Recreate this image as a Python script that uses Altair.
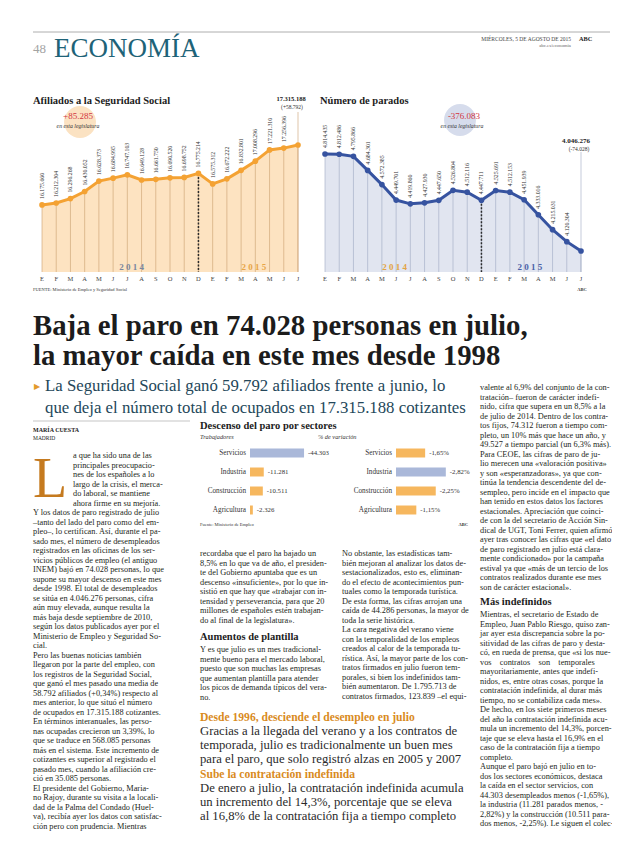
import altair as alt
import pandas as pd

# ---------------- data ----------------
MONTHS = ["E", "F", "M", "A", "M", "J", "J", "A", "S", "O", "N", "D",
          "E", "F", "M", "A", "M", "J", "J"]
AFILIADOS = [16175660, 16212304, 16296268, 16430052, 16628373, 16684995,
             16747103, 16649128, 16661750, 16690520, 16698752, 16775214,
             16575312, 16672222, 16832801, 17008296, 17221310, 17256396,
             17315188]
PARADOS = [4814435, 4812486, 4795866, 4684301, 4572385, 4449701, 4419860,
           4427930, 4447650, 4526804, 4512116, 4447711, 4525691, 4512153,
           4451939, 4333016, 4215031, 4120304, 4046276]
SECTORES = ["Servicios", "Industria", "Construcción", "Agricultura"]
TRABAJADORES = [-44303, -11281, -10511, -2326]
VARIACION = [-1.65, -2.82, -2.25, -1.15]

W, H = 604, 830
SERIF = "Liberation Serif"
ORANGE = "#f4a233"
BLUE = "#3653a0"
TXT = "#231f20"
IND = "\u00a0\u00a0\u00a0\u00a0"


def px(x):
    return x - 8


def py(y):
    return y - 8


def es_int(v):
    return f"{v:,}".replace(",", ".")


def es_pct(v):
    return f"{v:.2f}".replace(".", ",") + "%"


ONE = pd.DataFrame({"k": [0]})


def text(s, x, y, size=8.3, color=TXT, weight="normal", style="normal",
         align="left", baseline="alphabetic", font=SERIF, lh=None):
    if isinstance(s, (list, tuple)):
        s = "\n".join(s)
    kw = dict(fontSize=size, color=color, fontWeight=weight, fontStyle=style,
              align=align, baseline=baseline, font=font)
    if "\n" in s:
        kw["lineBreak"] = "\n"
        kw["lineHeight"] = lh or size * 1.15
    return alt.Chart(ONE).mark_text(**kw).encode(
        x=alt.value(px(x)), y=alt.value(py(y)), text=alt.value(s))


def hrule(x0, x1, y, color="#8a8a8a", w=0.7):
    return alt.Chart(ONE).mark_rule(color=color, strokeWidth=w).encode(
        x=alt.value(px(x0)), x2=alt.value(px(x1)), y=alt.value(py(y)))


def bubble(x, y, r, color):
    return alt.Chart(ONE).mark_circle(color=color, opacity=1, size=3.1416 * r * r).encode(
        x=alt.value(px(x)), y=alt.value(py(y)))


def trend(values, x0, x1, floor, y_floor, y_top, line_c, fill_c, grid_c,
          years, leader_top):
    n = len(values)
    top = max(values)
    df = pd.DataFrame({"i": list(range(n)), "m": MONTHS, "v": values,
                       "lab": [es_int(v) for v in values]})
    xs = alt.Scale(domain=[0, n - 1], range=[px(x0), px(x1)], nice=False, zero=False)
    ys = alt.Scale(domain=[floor, top], range=[py(y_floor), py(y_top)], nice=False, zero=False)
    X = alt.X("i:Q", scale=xs)
    Y = alt.Y("v:Q", scale=ys)
    base = alt.Chart(df)
    lead_v = floor + (y_floor - leader_top) / (y_floor - y_top) * (top - floor)
    layers = [
        base.mark_area(color=fill_c, opacity=1).encode(X, Y, y2=alt.datum(floor)),
        base.mark_rule(color=grid_c, strokeWidth=0.6).encode(X, Y, y2=alt.datum(floor)),
        base.transform_filter(f"datum.i == {n - 1}").mark_rule(
            color=grid_c, strokeWidth=0.6).encode(
            X, y=alt.YDatum(lead_v, type="quantitative", scale=ys), y2=alt.datum(floor)),
        base.transform_filter("datum.i == 11").mark_rule(
            color="#2b2b2b", strokeWidth=1.5, strokeDash=[2, 1.5]).encode(
            X, Y, y2=alt.datum(floor)),
        base.mark_line(color=line_c, strokeWidth=3).encode(X, Y),
        base.mark_circle(color=line_c, size=32, opacity=1).encode(X, Y),
        base.transform_filter(f"datum.i < {n - 1}").mark_text(
            angle=270, align="left", baseline="middle", dx=6, fontSize=5.8,
            font=SERIF, color="#333").encode(X, Y, text="lab:N"),
        base.mark_text(fontSize=6.5, font=SERIF, color="#444",
                       baseline="middle").encode(X, y=alt.value(py(279)), text="m:N"),
    ]
    for s, pos, col in years:
        layers.append(alt.Chart(ONE).mark_text(
            fontSize=9, font=SERIF, color=col, baseline="middle", fontWeight="bold").encode(
            x=alt.XDatum(pos, type="quantitative", scale=xs),
            y=alt.value(py(267)), text=alt.value(s)))
    return alt.layer(*layers)


def sector_bars(values, labels, hi, x0, maxv, maxw, label_right, y0, y1):
    df = pd.DataFrame({"s": SECTORES, "v": values, "lab": labels,
                       "c": ["#aab8d9" if i == hi else "#f6b75e" for i in range(len(values))]})
    xs = alt.Scale(domain=[0, maxv], range=[px(x0), px(x0 + maxw)], nice=False, zero=False)
    ys = alt.Scale(type="point", domain=SECTORES, range=[py(y0), py(y1)], padding=0)
    X = alt.X("v:Q", scale=xs)
    Y = alt.Y("s:N", scale=ys)
    base = alt.Chart(df)
    return alt.layer(
        base.mark_bar(size=9).encode(X, x2=alt.datum(0), y=Y,
                                     color=alt.Color("c:N", scale=None)),
        base.mark_text(align="left", dx=4, baseline="middle", fontSize=6.8,
                       font=SERIF, color="#333").encode(X, Y, text="lab:N"),
        base.mark_text(align="right", baseline="middle", fontSize=7.2,
                       font=SERIF, color="#333").encode(
            x=alt.value(px(label_right)), y=Y, text="s:N"),
    )


# ---------------- body text ----------------
HEADLINE = ["Baja el paro en 74.028 personas en julio,",
            "la mayor caída en este mes desde 1998"]
SUBTITLE = ["La Seguridad Social ganó 59.792 afiliados frente a junio, lo",
            "que deja el número total de ocupados en 17.315.188 cotizantes"]

COL1_CAP = ["a que ha sido una de las", "principales preocupacio-",
            "nes de los españoles a lo", "largo de la crisis, el merca-",
            "do laboral, se mantiene", "ahora firme en su mejoría."]
COL1 = [
    "Y los datos de paro registrado de julio",
    "–tanto del lado del paro como del em-",
    "pleo–, lo certifican. Así, durante el pa-",
    "sado mes, el número de desempleados",
    "registrados en las oficinas de los ser-",
    "vicios públicos de empleo (el antiguo",
    "INEM) bajó en 74.028 personas, lo que",
    "supone su mayor descenso en este mes",
    "desde 1998. El total de desempleados",
    "se sitúa en 4.046.276 personas, cifra",
    "aún muy elevada, aunque resulta la",
    "más baja desde septiembre de 2010,",
    "según los datos publicados ayer por el",
    "Ministerio de Empleo y Seguridad So-",
    "cial.",
    IND + "Pero las buenas noticias también",
    "llegaron por la parte del empleo, con",
    "los registros de la Seguridad Social,",
    "que ganó el mes pasado una media de",
    "58.792 afiliados (+0,34%) respecto al",
    "mes anterior, lo que situó el número",
    "de ocupados en 17.315.188 cotizantes.",
    "En términos interanuales, las perso-",
    "nas ocupadas crecieron un 3,39%, lo",
    "que se traduce en 568.085 personas",
    "más en el sistema. Este incremento de",
    "cotizantes es superior al registrado el",
    "pasado mes, cuando la afiliación cre-",
    "ció en 35.085 personas.",
    IND + "El presidente del Gobierno, Maria-",
    "no Rajoy, durante su visita a la locali-",
    "dad de la Palma del Condado (Huel-",
    "va), recibía ayer los datos con satisfac-",
    "ción pero con prudencia. Mientras",
]
COL2_A = [
    "recordaba que el paro ha bajado un",
    "8,5% en lo que va de año, el presiden-",
    "te del Gobierno apuntaba que es un",
    "descenso «insuficiente», por lo que in-",
    "sistió en que hay que «trabajar con in-",
    "tensidad y perseverancia, para que 20",
    "millones de españoles estén trabajan-",
    "do al final de la legislatura».",
]
COL2_B = [
    "Y es que julio es un mes tradicional-",
    "mente bueno para el mercado laboral,",
    "puesto que son muchas las empresas",
    "que aumentan plantilla para atender",
    "los picos de demanda típicos del vera-",
    "no.",
]
COL3 = [
    IND + "No obstante, las estadísticas tam-",
    "bién mejoran al analizar los datos de-",
    "sestacionalizados, esto es, eliminan-",
    "do el efecto de acontecimientos pun-",
    "tuales como la temporada turística.",
    "De esta forma, las cifras arrojan una",
    "caída de 44.286 personas, la mayor de",
    "toda la serie histórica.",
    IND + "La cara negativa del verano viene",
    "con la temporalidad de los empleos",
    "creados al calor de la temporada tu-",
    "rística. Así, la mayor parte de los con-",
    "tratos firmados en julio fueron tem-",
    "porales, si bien los indefinidos tam-",
    "bién aumentaron. De 1.795.713 de",
    "contratos firmados, 123.839 –el equi-",
]
BOX1 = ["Gracias a la llegada del verano y a los contratos de",
        "temporada, julio es tradicionalmente un buen mes",
        "para el paro, que solo registró alzas en 2005 y 2007"]
BOX2 = ["De enero a julio, la contratación indefinida acumula",
        "un incremento del 14,3%, porcentaje que se eleva",
        "al 16,8% de la contratación fija a tiempo completo"]
COL4_A = [
    "valente al 6,9% del conjunto de la con-",
    "tratación– fueron de carácter indefi-",
    "nido, cifra que supera en un 8,5% a la",
    "de julio de 2014. Dentro de los contra-",
    "tos fijos, 74.312 fueron a tiempo com-",
    "pleto, un 10% más que hace un año, y",
    "49.527 a tiempo parcial (un 6,3% más).",
    IND + "Para CEOE, las cifras de paro de ju-",
    "lio merecen una «valoración positiva»",
    "y son «esperanzadoras», ya que con-",
    "tinúa la tendencia descendente del de-",
    "sempleo, pero incide en el impacto que",
    "han tenido en estos datos los factores",
    "estacionales. Apreciación que coinci-",
    "de con la del secretario de Acción Sin-",
    "dical de UGT, Toni Ferrer, quien afirmó",
    "ayer tras conocer las cifras que «el dato",
    "de paro registrado en julio está clara-",
    "mente condicionado» por la campaña",
    "estival ya que «más de un tercio de los",
    "contratos realizados durante ese mes",
    "son de carácter estacional».",
]
COL4_B = [
    "Mientras, el secretario de Estado de",
    "Empleo, Juan Pablo Riesgo, quiso zan-",
    "jar ayer esta discrepancia sobre la po-",
    "sitividad de las cifras de paro y desta-",
    "có, en rueda de prensa, que «si los nue-",
    "vos\u00a0\u00a0\u00a0\u00a0contratos\u00a0\u00a0\u00a0\u00a0son\u00a0\u00a0\u00a0\u00a0temporales",
    "mayoritariamente, antes que indefi-",
    "nidos, es, entre otras cosas, porque la",
    "contratación indefinida, al durar más",
    "tiempo, no se contabiliza cada mes».",
    "De hecho, en los siete primeros meses",
    "del año la contratación indefinida acu-",
    "mula un incremento del 14,3%, porcen-",
    "taje que se eleva hasta el 16,9% en el",
    "caso de la contratación fija a tiempo",
    "completo.",
    IND + "Aunque el paro bajó en julio en to-",
    "dos los sectores económicos, destaca",
    "la caída en el sector servicios, con",
    "44.303 desempleados menos (-1,65%),",
    "la industria (11.281 parados menos, -",
    "2,82%) y la construcción (10.511 para-",
    "dos menos, -2,25%). Le siguen el colec-",
]

LH = 9.5
BODY = 8.3
HEAD_ORANGE = "#d98b1e"

layers = [
    # page header
    hrule(33, 610, 32, "#9a9a9a", 0.8),
    text("48", 33, 53, size=13, color="#a3a3a3"),
    text("ECONOMÍA", 54, 57, size=27, color="#1e6378"),
    text("MIÉRCOLES, 5 DE AGOSTO DE 2015", 571, 41, size=5.5, color="#444", align="right"),
    text("ABC", 579, 41, size=6.3, color="#222", weight="bold"),
    text("abc.es/economia", 571, 47, size=4.8, color="#666", align="right"),

    # chart titles
    text("Afiliados a la Seguridad Social", 33, 104, size=10.5, weight="bold", color="#1c1c1c"),
    text("Número de parados", 320, 104, size=10.5, weight="bold", color="#1c1c1c"),

    # bubbles
    bubble(80, 122, 18, "#fbe2c2"),
    text("+85.285", 78, 119, size=9, color="#d2353f", align="center"),
    text("en esta legislatura", 78, 128, size=5.8, style="italic", color="#333", align="center"),
    bubble(460, 120, 18, "#d6dcec"),
    text("-376.083", 464, 119, size=9, color="#d2353f", align="center"),
    text("en esta legislatura", 462, 128, size=5.8, style="italic", color="#333", align="center"),

    trend(AFILIADOS, 42, 298, 14900000, 272, 145, ORANGE, "#fde3c1", "#c9a06e",
          [("2 0 1 4", 6.3, "#7a879f"), ("2 0 1 5", 14.9, "#e8a546")], 112),
    trend(PARADOS, 325, 581, 3880000, 272, 154, BLUE, "#e1e5f0", "#9ea8c2",
          [("2 0 1 4", 4.9, "#e2a444"), ("2 0 1 5", 14.4, "#4a62a8")], 152),

    text("17.315.188", 291, 101, size=6.5, weight="bold", align="center", color="#1c1c1c"),
    text("(+58.792)", 292, 109, size=5.5, align="center", color="#333"),
    text("4.046.276", 576, 143, size=7, weight="bold", align="center", color="#1c1c1c"),
    text("(-74.028)", 579, 151, size=5.5, align="center", color="#333"),
    text("FUENTE: Ministerio de Empleo y Seguridad Social", 33, 291, size=4.5, color="#333"),
    text("ABC", 582, 291, size=4.5, weight="bold", align="center", color="#333"),

    # headline & subtitle
    text(HEADLINE[0], 33, 335, size=28.8, weight="bold", color="#1c1c1c"),
    text(HEADLINE[1], 33, 365, size=28.8, weight="bold", color="#1c1c1c"),
    text("▶", 34, 389, size=8, color="#e39a2c", font="DejaVu Sans"),
    text(SUBTITLE[0], 45, 391, size=16.8, color="#24475a"),
    text(SUBTITLE[1], 45, 413, size=16.8, color="#24475a"),

    # column 1
    hrule(33, 190, 421, "#a0a0a0", 0.6),
    text("MARÍA CUESTA", 33, 432, size=6, weight="bold", color="#222"),
    text("MADRID", 33, 440, size=5.5, color="#222"),
    text("L", 33, 497, size=56, color="#c57a1f"),
    text(COL1_CAP, 73, 458, size=BODY, lh=LH),
    text(COL1, 33, 458 + 6 * LH, size=BODY, lh=LH),

    # sector bar charts
    text("Descenso del paro por sectores", 200, 429, size=10.5, weight="bold", color="#1c1c1c"),
    text("Trabajadores", 200, 439, size=6.3, style="italic", color="#333"),
    text("% de variación", 318, 439, size=6.3, style="italic", color="#333"),
    sector_bars(TRABAJADORES, [es_int(v) for v in TRABAJADORES], 0,
                250, -50000, 61, 246, 453, 510),
    sector_bars(VARIACION, [es_pct(v) for v in VARIACION], 1,
                396, -3.0, 53, 392, 453, 510),
    text("Fuente: Ministerio de Empleo", 200, 526, size=4.5, color="#333"),
    text("ABC", 468, 526, size=4.5, weight="bold", align="right", color="#333"),

    # columns 2 and 3
    text(COL2_A, 200, 556, size=BODY, lh=LH),
    text("Aumentos de plantilla", 200, 640, size=10.5, weight="bold", color="#1c1c1c"),
    text(COL2_B, 200, 652, size=BODY, lh=LH),
    text(COL3, 342, 556, size=BODY, lh=LH),

    # boxes
    text("Desde 1996, desciende el desempleo en julio", 200, 721, size=11.6,
         weight="bold", color=HEAD_ORANGE),
    text(BOX1, 200, 735, size=12.7, color="#2a2a2a", lh=14),
    text("Sube la contratación indefinida", 200, 778, size=11.6,
         weight="bold", color=HEAD_ORANGE),
    text(BOX2, 200, 792, size=12.7, color="#2a2a2a", lh=14),

    # column 4
    text(COL4_A, 480, 390, size=BODY, lh=LH),
    text("Más indefinidos", 480, 605, size=10.5, weight="bold", color="#1c1c1c"),
    text(COL4_B, 480, 617, size=BODY, lh=LH),
]

chart = alt.layer(*layers).resolve_scale(
    x="independent", y="independent"
).properties(
    width=W, height=H, padding=0,
    autosize=alt.AutoSizeParams(type="none"),
    background="white",
).configure_view(stroke=None).configure_axis(disable=True)

chart.save("out.html", embed_options={"renderer": "svg", "actions": False})
